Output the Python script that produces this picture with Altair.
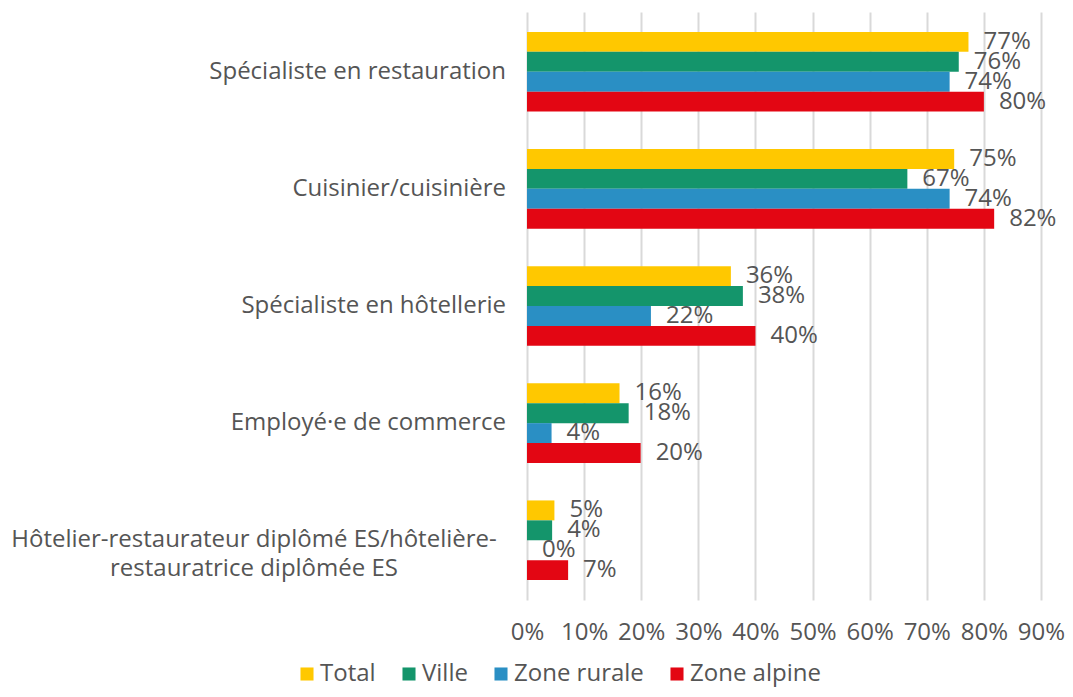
import altair as alt
import pandas as pd

categories = [
    "Spécialiste en restauration",
    "Cuisinier/cuisinière",
    "Spécialiste en hôtellerie",
    "Employé·e de commerce",
    "Hôtelier-restaurateur diplômé ES/hôtelière-restauratrice diplômée ES",
]
cat_lines = [
    ["Spécialiste en restauration"],
    ["Cuisinier/cuisinière"],
    ["Spécialiste en hôtellerie"],
    ["Employé·e de commerce"],
    ["Hôtelier-restaurateur diplômé ES/hôtelière-", "restauratrice diplômée ES"],
]
series = ["Total", "Ville", "Zone rurale", "Zone alpine"]
colors = ["#FFC800", "#14956B", "#2A8FC4", "#E30613"]

total = [77.3, 74.8, 35.7, 16.2, 4.8]
ville = [75.6, 66.6, 37.8, 17.8, 4.4]
rurale = [74.0, 74.0, 21.7, 4.3, 0.0]
alpine = [80.0, 81.8, 40.0, 19.9, 7.2]
x_ticks = [0, 10, 20, 30, 40, 50, 60, 70, 80, 90]

rows = []
for s, vals in zip(series, [total, ville, rurale, alpine]):
    for c, v in zip(categories, vals):
        rows.append({"cat": c, "series": s, "value": v, "label": f"{round(v)}%"})
df = pd.DataFrame(rows)

cat_df = pd.DataFrame({"cat": categories, "lines": cat_lines,
                       "multi": [len(l) > 1 for l in cat_lines]})

FONT = "Open Sans"
TXT = "#555555"
FS = 24

y_enc = alt.Y("cat:N", sort=categories, axis=None,
              scale=alt.Scale(paddingInner=0.32, paddingOuter=0.17))

bars = alt.Chart(df).mark_bar().encode(
    x=alt.X("value:Q", scale=alt.Scale(domain=[0, 90]),
            axis=alt.Axis(values=x_ticks, labelExpr="datum.value + '%'",
                          grid=True, gridColor="#d9d9d9", gridWidth=2,
                          ticks=False, domain=False, labelFlush=False,
                          labelFont=FONT, labelFontSize=FS, labelColor=TXT,
                          labelPadding=20, title=None)),
    y=y_enc,
    yOffset=alt.YOffset("series:N", sort=series, scale=alt.Scale(paddingInner=0, paddingOuter=0)),
    color=alt.Color("series:N", sort=series,
                    scale=alt.Scale(domain=series, range=colors),
                    legend=alt.Legend(title=None, orient="none", legendX=-232, legendY=650,
                                      direction="horizontal", columns=4,
                                      symbolType="square", symbolSize=170,
                                      symbolStrokeWidth=0, labelFont=FONT,
                                      labelFontSize=FS, labelColor=TXT,
                                      labelOffset=1, columnPadding=21)),
)

labels = alt.Chart(df).mark_text(align="left", baseline="middle", dx=15,
                                 font=FONT, fontSize=FS, color=TXT).encode(
    x="value:Q",
    y=y_enc,
    yOffset=alt.YOffset("series:N", sort=series),
    text="label:N",
)

cat_single = alt.Chart(cat_df).transform_filter("!datum.multi").mark_text(
    align="right", baseline="middle", font=FONT, fontSize=FS, color=TXT
).encode(x=alt.value(-21), y=y_enc, text="lines:N")

cat_multi = alt.Chart(cat_df).transform_filter("datum.multi").mark_text(
    align="center", baseline="middle", font=FONT, fontSize=FS, color=TXT, lineHeight=29
).encode(x=alt.value(-273), y=y_enc, text="lines:N")

chart = alt.layer(bars, labels, cat_single, cat_multi).properties(
    width=514, height=588,
    autosize=alt.AutoSizeParams(type="none"),
    padding={"left": 519, "top": 4, "right": 24, "bottom": 89},
).configure_view(stroke=None)

chart.save("out.html", embed_options={"renderer": "svg", "actions": False})
